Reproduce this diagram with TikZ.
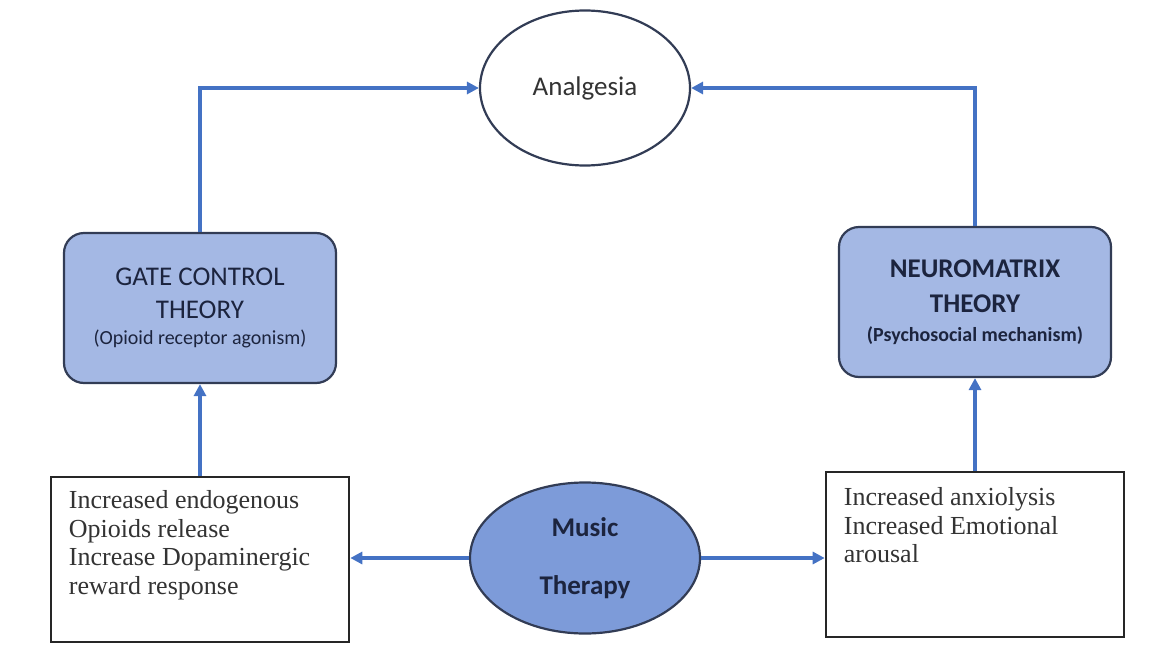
\documentclass[tikz,border=0pt]{standalone}
\usepackage{fontspec}
\usepackage{tikz}
\usetikzlibrary{shapes,arrows.meta,positioning,calc}
\usepackage{xcolor}
\newfontfamily\calib{Carlito}
\newfontfamily\boxserif{Liberation Serif}

\definecolor{flowblue}{RGB}{68,114,196}
\definecolor{theoryfill}{RGB}{164,184,228}
\definecolor{musicfill}{RGB}{125,155,217}
\definecolor{edgegray}{RGB}{50,60,85}
\definecolor{textnavy}{RGB}{28,36,62}

\tikzset{
  flow/.style={-{Triangle[length=12pt,width=12pt]}, line width=3.4pt, flowblue},
  theory/.style={draw=edgegray, line width=2.2pt, fill=theoryfill, rounded corners=20pt,
    minimum width=272pt, minimum height=150pt, inner sep=0pt, align=center,
    text=textnavy, font=\calib\fontsize{27}{33}\selectfont},
  effectbox/.style={draw=black!85, line width=2.6pt, fill=white,
    minimum width=298pt, minimum height=165pt, inner sep=0pt},
  effecttext/.style={anchor=north west, inner sep=0pt, align=left, text=black!80,
    font=\boxserif\fontsize{26}{28.5}\selectfont}
}

\begin{document}
\begin{tikzpicture}[x=1pt, y=-1pt]
            \useasboundingbox (0,0) rectangle (1162,645);

            % Analgesia (top)
            \node[draw=edgegray, line width=2.2pt, ellipse, fill=white, minimum width=210pt,
              minimum height=155pt, inner sep=0pt, font=\calib\fontsize{27}{33}\selectfont,
              text=black!80] (analg) at (585,88) {Analgesia};

            % Theories
            \node[theory] (gate) at (200,308) {GATE CONTROL\\THEORY\\[-7pt]{\fontsize{20}{24}\selectfont (Opioid receptor agonism)}};
            \node[theory, font=\calib\bfseries\fontsize{27}{35}\selectfont] (neuro) at (975,302) {NEUROMATRIX\\THEORY\\[-6pt]{\fontsize{20}{24}\selectfont (Psychosocial mechanism)}};

            % Effects
            \node[effectbox] (lbox) at (200,559.5) {};
            \node[effecttext] (ltext) at ([shift={(19,15)}]lbox.north west) {Increased endogenous\\Opioids release\\Increase Dopaminergic\\reward response};
            \node[effectbox] (rbox) at (975,554.5) {};
            \node[effecttext] (rtext) at ([shift={(19,17)}]rbox.north west) {Increased anxiolysis\\Increased Emotional\\arousal};

            % Music therapy (bottom)
            \node[draw=edgegray, line width=2.2pt, ellipse, fill=musicfill, minimum width=230pt,
              minimum height=151pt, inner sep=0pt, align=center, text=textnavy,
              font=\calib\bfseries\fontsize{27}{33}\selectfont] (music) at (585,558) {Music\\[25pt]Therapy};

            % Connections
            \draw[flow] (music.west) -- (music.west -| lbox.east);
            \draw[flow] (music.east) -- (music.east -| rbox.west);
            \draw[flow] (lbox.north) -- (lbox.north |- gate.south);
            \draw[flow] (rbox.north) -- (rbox.north |- neuro.south);
            \draw[flow] (gate.north) |- (analg.west);
            \draw[flow] (neuro.north) |- (analg.east);
        \end{tikzpicture}
\end{document}
